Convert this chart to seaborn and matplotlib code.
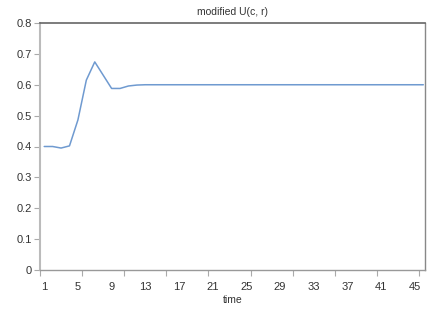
import matplotlib
matplotlib.use("Agg")
import matplotlib.pyplot as plt
import seaborn as sns
import numpy as np
import pandas as pd

time = list(range(1, 47))
u_values = [0.400, 0.400, 0.395, 0.402, 0.486, 0.615, 0.674, 0.631, 0.588, 0.588,
            0.596, 0.599] + [0.600] * 34
tick_labels = [str(t) for t in range(1, 46, 4)]

df = pd.DataFrame({"time": time, "U": u_values})

sns.set_style("white")
plt.rcParams['font.family'] = ['Liberation Sans', 'DejaVu Sans']

fig = plt.figure(figsize=(4.35, 3.17), dpi=100)
ax = fig.add_axes([40/435, 47/317, 385/435, 247/317])

sns.lineplot(data=df, x="time", y="U", ax=ax, color="#6F9AD0", linewidth=1.1)

ax.set_xlim(0.5, 46.2)
ax.set_ylim(0, 0.8)
ax.set_yticks(np.arange(0, 0.81, 0.1))
ax.set_yticklabels(["0"] + [f"{v:.1f}" for v in np.arange(0.1, 0.81, 0.1)], fontsize=8, color="#333333")

# major ticks: marks only, every 5 categories
ax.set_xticks(np.arange(0.5, 46, 5))
ax.set_xticklabels([])
ax.tick_params(axis="x", which="major", bottom=True, length=4, width=0.8, color="#AAAAAA", direction="out")
# minor ticks: labels only
ax.set_xticks([int(t) for t in tick_labels], minor=True)
ax.set_xticklabels(tick_labels, minor=True, fontsize=8, color="#333333")
ax.tick_params(axis="x", which="minor", bottom=True, length=0, pad=9)
ax.tick_params(axis="y", left=True, length=4, width=0.8, color="#AAAAAA", direction="out", pad=2)

ax.set_xlabel("time", fontsize=7.5, color="#333333", labelpad=2)
ax.set_ylabel("")
ax.set_title("modified U(c, r)", fontsize=7.5, color="#333333", pad=6)

ax.spines["left"].set_color("#BBBBBB")
ax.spines["left"].set_linewidth(1.5)
ax.spines["bottom"].set_color("#999999")
ax.spines["bottom"].set_linewidth(1.0)
ax.spines["top"].set_color("#666666")
ax.spines["top"].set_linewidth(1.2)
ax.spines["right"].set_color("#888888")
ax.spines["right"].set_linewidth(1.0)
for s in ax.spines.values():
    s.set_visible(True)

fig.savefig("out.png", dpi=100)
